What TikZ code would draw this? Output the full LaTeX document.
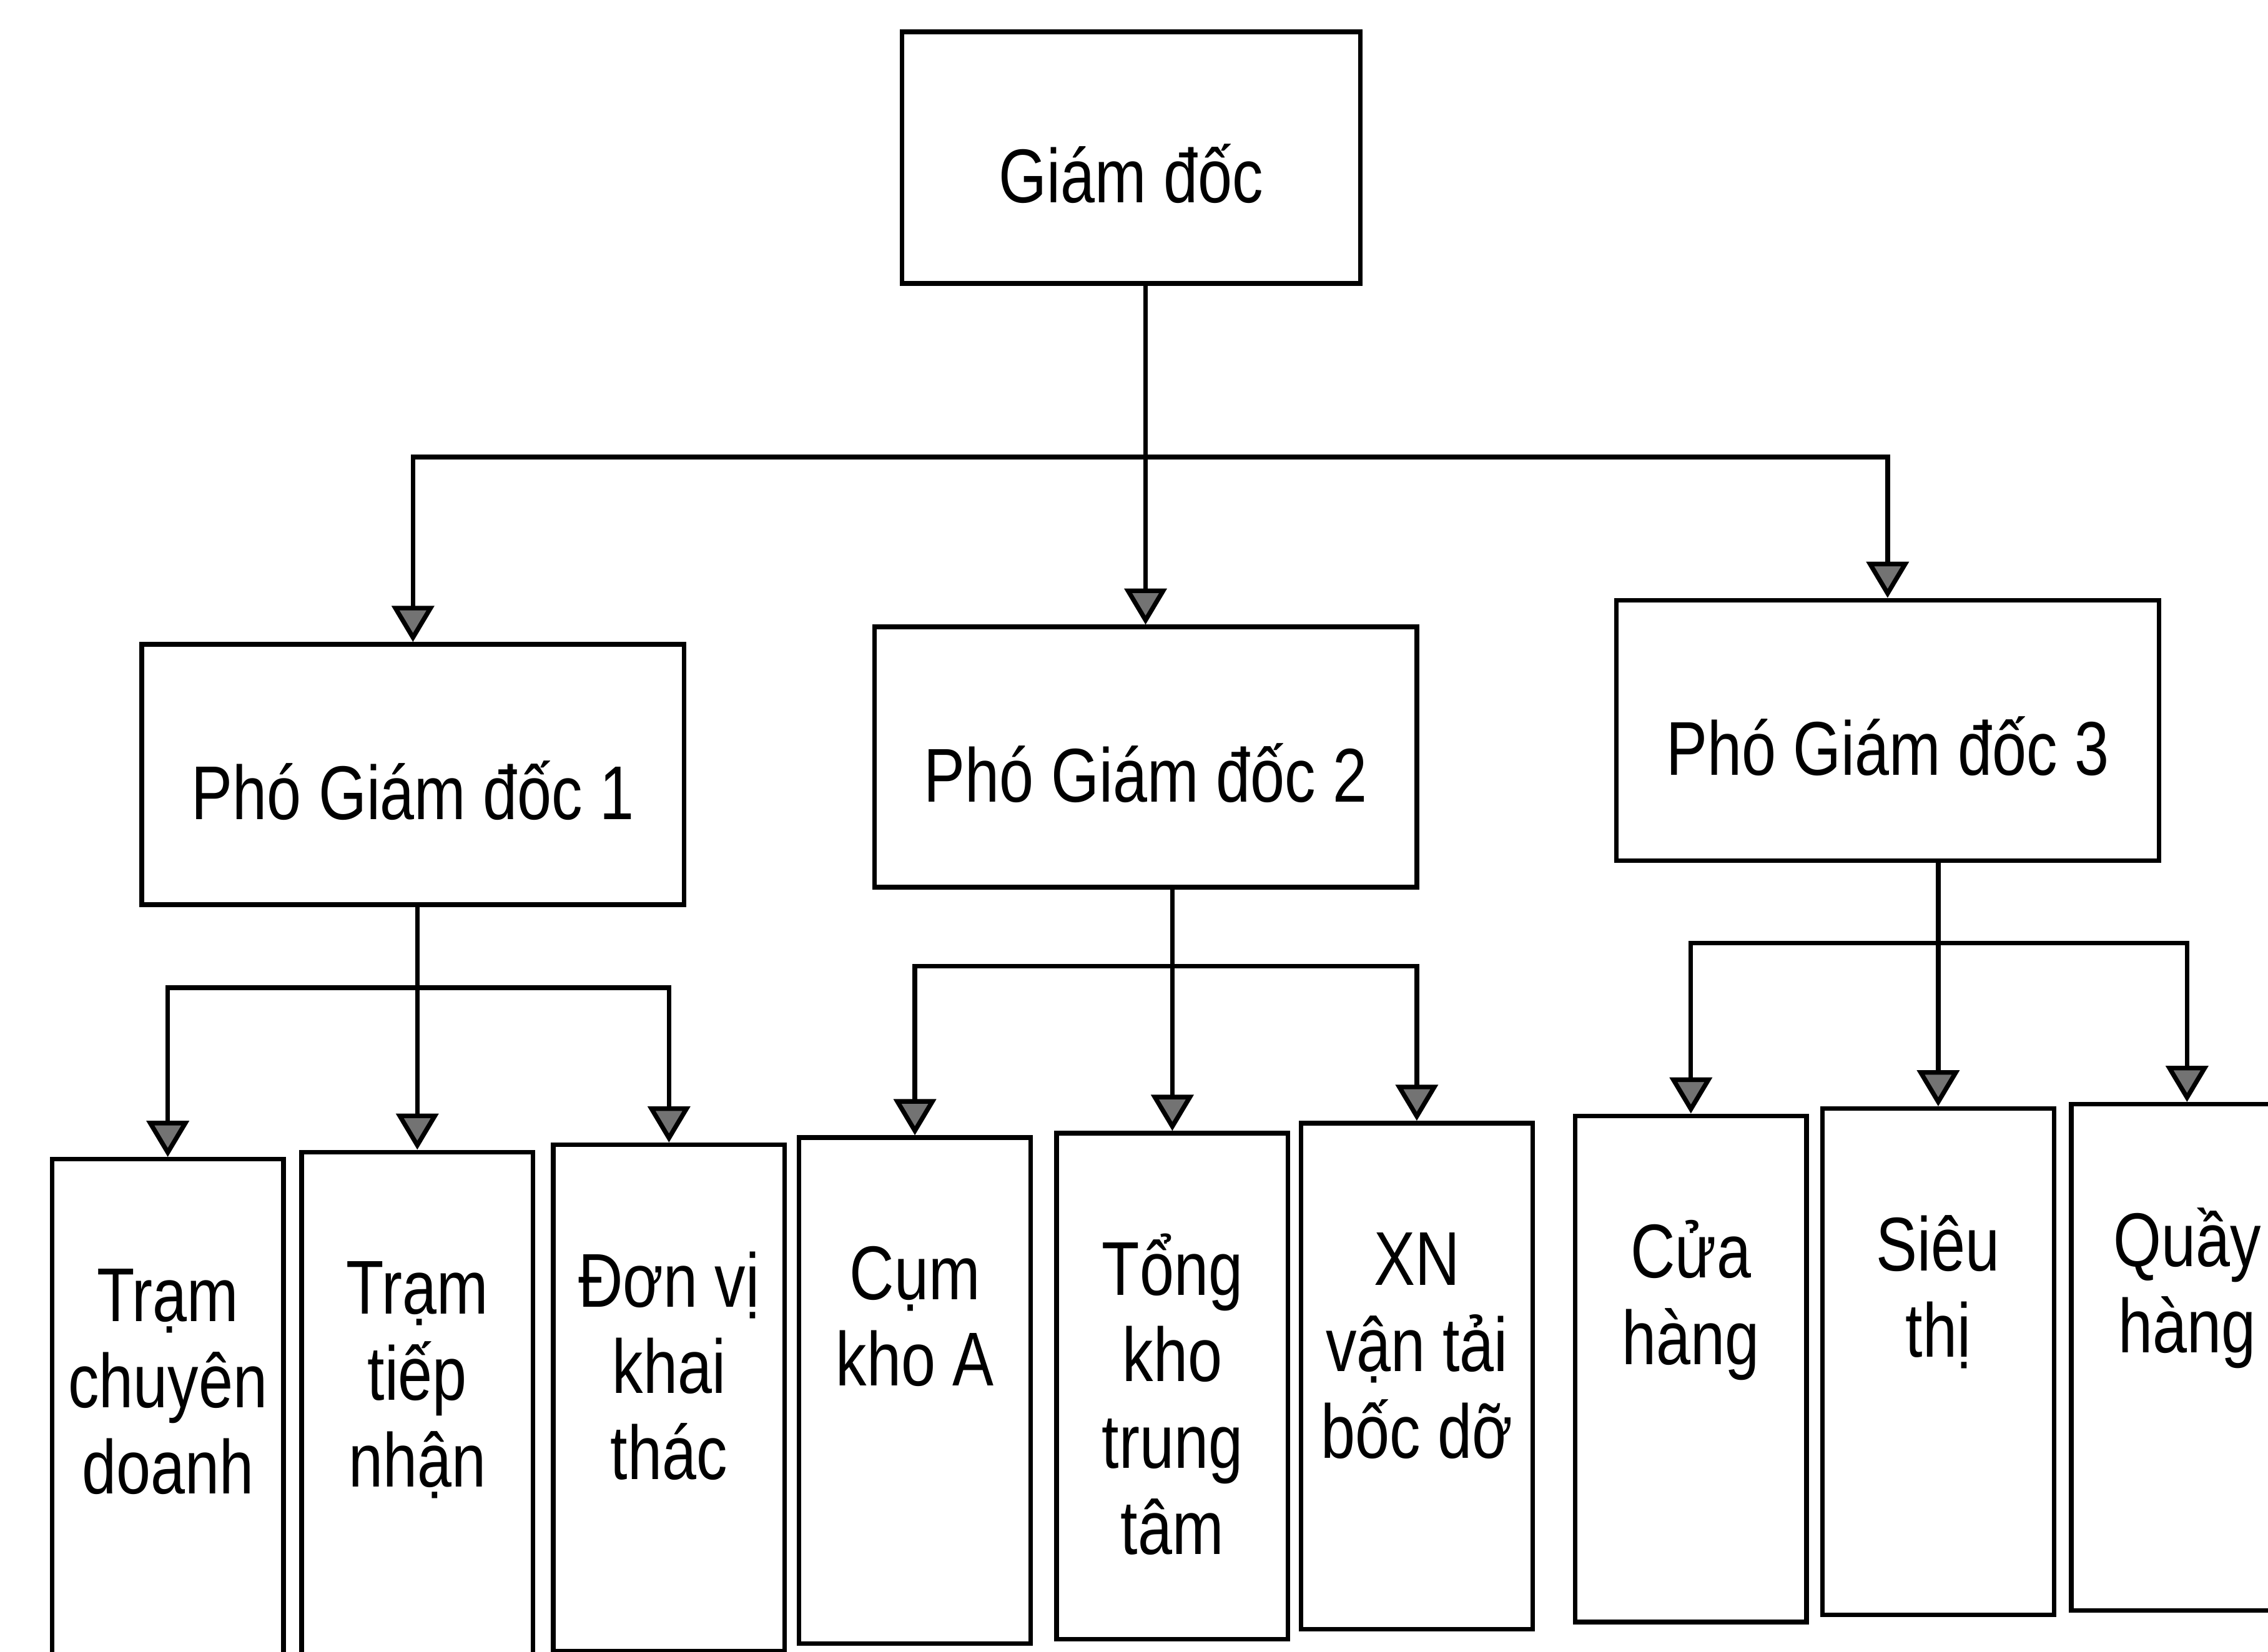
\documentclass[tikz,border=0pt]{standalone}
\usepackage{fontspec}
\setmainfont{Liberation Sans}[FakeStretch=0.81]
\usetikzlibrary{arrows.meta,positioning}
\tikzset{
  khung/.style={rectangle, draw, line width=0.9pt, align=center,
                font=\fontsize{15}{17}\selectfont, minimum width=3.75cm, minimum height=1.8cm,
                text height=0.62cm, text depth=0cm},
  cot/.style={rectangle, draw, line width=0.9pt, align=flush center, anchor=north,
              font=\fontsize{15}{17}\selectfont, text width=1.6cm, inner sep=0pt,
              text height=1.12cm, text depth=2.38cm},
  arr/.style={-{Triangle[length=2.5mm, width=2.9mm, fill=black!55]}, line width=0.9pt},
}
\begin{document}
\begin{tikzpicture}
    \useasboundingbox (0,0) rectangle (15.68,11.42);
    \node[khung, minimum width=3.17cm, minimum height=1.74cm] (gd) at (7.82,10.33) {Giám đốc};
    \node[khung] (pgd1) at (2.855,6.065) {Phó Giám đốc 1};
    \node[khung] (pgd2) at (7.92,6.185) {Phó Giám đốc 2};
    \node[khung] (pgd3) at (13.05,6.37) {Phó Giám đốc 3};
    \node[cot] (d1) at (1.16,3.42) {Trạm\\chuyên\\doanh};
    \node[cot] (d2) at (2.885,3.47) {Trạm\\tiếp\\nhận};
    \node[cot] (d3) at (4.625,3.52) {Đơn vị\\khai\\thác};
    \node[cot] (d4) at (6.325,3.57) {Cụm\\kho A};
    \node[cot] (d5) at (8.105,3.60) {Tổng\\kho\\trung\\tâm};
    \node[cot] (d6) at (9.795,3.67) {XN\\vận tải\\bốc dỡ};
    \node[cot] (d7) at (11.69,3.72) {Cửa\\hàng};
    \node[cot] (d8) at (13.40,3.77) {Siêu\\thị};
    \node[cot] (d9) at (15.12,3.80) {Quầy\\hàng};
    \draw[arr] (gd.south -| pgd2.north) -- (pgd2.north);
    \coordinate (j0) at (pgd2.north |- 0,8.26);
    \draw[arr] (j0) -| (pgd1.north);
    \draw[arr] (j0) -| (pgd3.north);
    \draw[arr] (pgd1.south -| d2.north) -- (d2.north);
    \coordinate (j1) at (d2.north |- 0,4.59);
    \draw[arr] (j1) -| (d1.north);
    \draw[arr] (j1) -| (d3.north);
    \draw[arr] (pgd2.south -| d5.north) -- (d5.north);
    \coordinate (j2) at (d5.north |- 0,4.74);
    \draw[arr] (j2) -| (d4.north);
    \draw[arr] (j2) -| (d6.north);
    \draw[arr] (pgd3.south -| d8.north) -- (d8.north);
    \coordinate (j3) at (d8.north |- 0,4.90);
    \draw[arr] (j3) -| (d7.north);
    \draw[arr] (j3) -| (d9.north);
\end{tikzpicture}
\end{document}
